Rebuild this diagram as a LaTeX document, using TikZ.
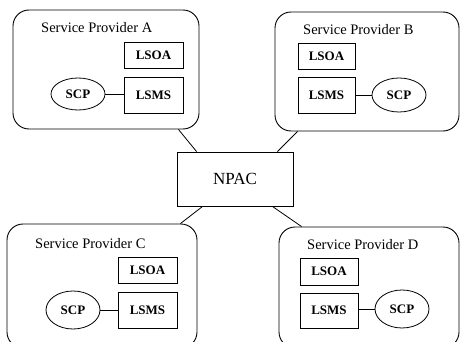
\documentclass[tikz,border=0pt]{standalone}
\usepackage{fontspec}
\setmainfont{Liberation Serif}
\usetikzlibrary{shapes.geometric}

\tikzset{
  provider/.style={draw, line width=0.9pt, rounded corners=16pt, inner sep=0pt},
  unitbox/.style={draw, line width=0.8pt, inner sep=0pt, font=\fontsize{13}{15}\selectfont\bfseries},
  scpnode/.style={draw, ellipse, line width=0.8pt, inner sep=0pt, font=\fontsize{13}{15}\selectfont\bfseries},
  ptitle/.style={anchor=base west, inner sep=0pt, font=\fontsize{14.5}{17}\selectfont},
  npacbox/.style={draw, line width=0.9pt, inner sep=0pt, font=\fontsize{17}{20}\selectfont},
  link/.style={line width=0.8pt}
}

\begin{document}
\begin{tikzpicture}[x=1pt,y=-1pt]
\useasboundingbox (0,0) rectangle (460,342);
\clip (0,0) rectangle (460,342);

% provider frames
\node[provider, minimum width=186pt, minimum height=119pt] (A) at (106,69.5) {};
\node[provider, minimum width=184pt, minimum height=119pt] (B) at (367,71.5) {};
\node[provider, minimum width=190pt, minimum height=124pt] (C) at (102,286) {};
\node[provider, minimum width=180pt, minimum height=121pt] (D) at (369,287.5) {};

% central NPAC
\node[npacbox, minimum width=116pt, minimum height=54pt] (npac) at (235,179) {NPAC};

% provider titles
\node[ptitle] (tA) at (41,33) {Service Provider A};
\node[ptitle] (tB) at (303,35) {Service Provider B};
\node[ptitle] (tC) at (35,248) {Service Provider C};
\node[ptitle] (tD) at (307,249) {Service Provider D};

% provider A
\node[unitbox, minimum width=59pt, minimum height=26pt] (lsoaA) at (153.5,55) {LSOA};
\node[unitbox, minimum width=59pt, minimum height=36pt] (lsmsA) at (153.5,95) {LSMS};
\node[scpnode, minimum width=54pt, minimum height=32pt] (scpA) at (78,94) {SCP};
\draw[link] (scpA.east) -- (lsmsA.west |- scpA.east);

% provider B
\node[unitbox, minimum width=57pt, minimum height=26pt] (lsoaB) at (326.5,56) {LSOA};
\node[unitbox, minimum width=57pt, minimum height=36pt] (lsmsB) at (326.5,95) {LSMS};
\node[scpnode, minimum width=54pt, minimum height=34pt] (scpB) at (399,95) {SCP};
\draw[link] (lsmsB.east |- scpB.west) -- (scpB.west);

% provider C
\node[unitbox, minimum width=59pt, minimum height=26pt] (lsoaC) at (147.5,270) {LSOA};
\node[unitbox, minimum width=59pt, minimum height=36pt] (lsmsC) at (147.5,310) {LSMS};
\node[scpnode, minimum width=54pt, minimum height=38pt] (scpC) at (73,310) {SCP};
\draw[link] (scpC.east) -- (lsmsC.west |- scpC.east);

% provider D
\node[unitbox, minimum width=58pt, minimum height=27pt] (lsoaD) at (329,271.5) {LSOA};
\node[unitbox, minimum width=58pt, minimum height=35pt] (lsmsD) at (329,310.5) {LSMS};
\node[scpnode, minimum width=54pt, minimum height=38pt] (scpD) at (402,309) {SCP};
\draw[link] (lsmsD.east |- scpD.west) -- (scpD.west);

% links from the providers to NPAC
\draw[link] ([xshift=-21pt]A.south east) -- ([xshift=20pt]npac.north west);
\draw[link] ([xshift=23pt]B.south west) -- ([xshift=-16pt]npac.north east);
\draw[link] ([xshift=-17pt]C.north east) -- ([xshift=26pt]npac.south west);
\draw[link] ([xshift=23pt]D.north west) -- ([xshift=-21pt]npac.south east);
\end{tikzpicture}
\end{document}
